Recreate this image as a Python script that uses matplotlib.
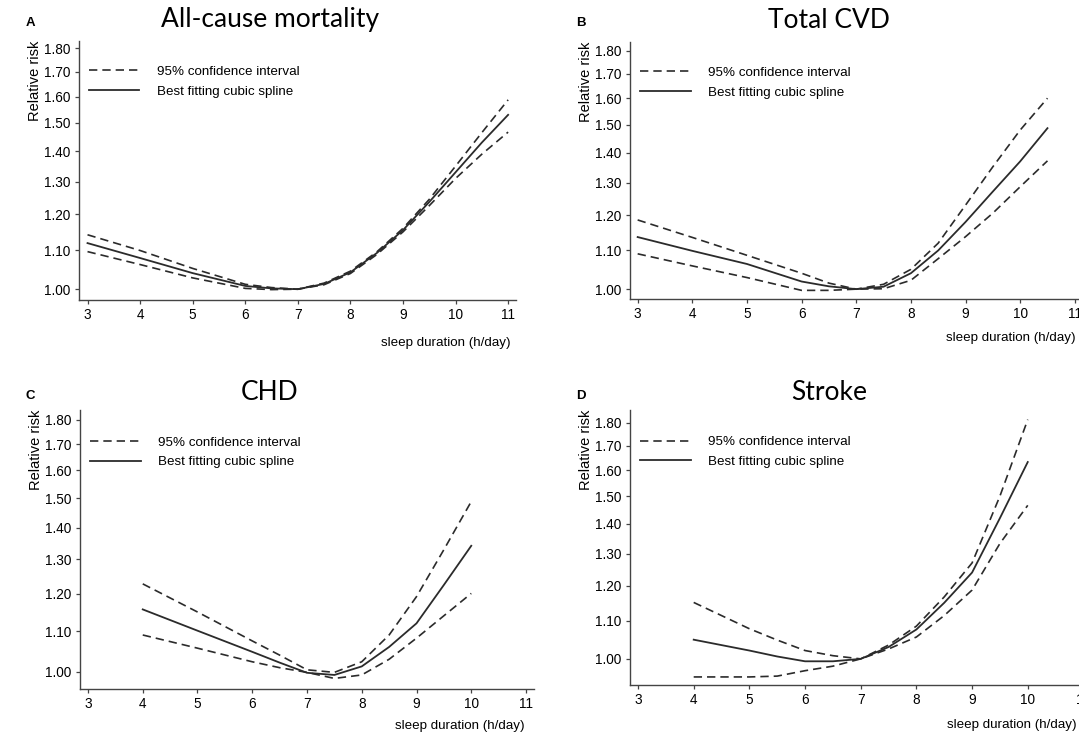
import matplotlib.pyplot as plt
from matplotlib.ticker import FixedLocator, NullLocator, FormatStrFormatter

plt.rcParams['font.family'] = ['Liberation Sans', 'DejaVu Sans']

# A - All-cause mortality
x_a = [3, 4, 5, 6, 6.5, 7, 7.5, 8, 8.5, 9, 9.5, 10, 10.5, 11]
spl_a = [1.119, 1.079, 1.040, 1.008, 1.002, 1.000, 1.013, 1.042, 1.092, 1.155, 1.237, 1.330, 1.430, 1.530]
up_a = [1.142, 1.099, 1.052, 1.012, 1.004, 1.000, 1.015, 1.045, 1.095, 1.160, 1.245, 1.350, 1.465, 1.587]
lo_a = [1.096, 1.062, 1.028, 1.002, 0.999, 1.000, 1.011, 1.039, 1.088, 1.150, 1.226, 1.310, 1.390, 1.467]

# B - Total CVD
x_b = [3, 4, 5, 6, 6.5, 7, 7.5, 8, 8.5, 9, 9.5, 10, 10.5]
spl_b = [1.137, 1.099, 1.064, 1.019, 1.007, 1.000, 1.006, 1.040, 1.100, 1.180, 1.272, 1.370, 1.487]
up_b = [1.186, 1.136, 1.087, 1.040, 1.015, 1.000, 1.012, 1.050, 1.120, 1.230, 1.352, 1.480, 1.601]
lo_b = [1.091, 1.059, 1.029, 0.997, 0.997, 1.000, 1.001, 1.022, 1.078, 1.138, 1.206, 1.287, 1.372]

# C - CHD
x_c = [4, 5, 6, 6.5, 7, 7.5, 8, 8.5, 9, 9.5, 10]
spl_c = [1.157, 1.101, 1.048, 1.022, 0.998, 0.993, 1.013, 1.060, 1.120, 1.225, 1.342]
up_c = [1.228, 1.150, 1.075, 1.040, 1.005, 0.999, 1.024, 1.090, 1.192, 1.330, 1.488]
lo_c = [1.090, 1.057, 1.024, 1.010, 0.999, 0.985, 0.993, 1.030, 1.082, 1.140, 1.201]

# D - Stroke
x_d = [4, 5, 5.5, 6, 6.5, 7, 7.5, 8, 8.5, 9, 9.5, 10]
spl_d = [1.049, 1.021, 1.006, 0.994, 0.994, 1.000, 1.030, 1.076, 1.150, 1.240, 1.420, 1.633]
up_d = [1.151, 1.078, 1.048, 1.021, 1.008, 1.000, 1.035, 1.085, 1.167, 1.270, 1.500, 1.815]
lo_d = [0.956, 0.956, 0.958, 0.971, 0.982, 1.000, 1.025, 1.056, 1.114, 1.187, 1.333, 1.466]

y_ticks = [1.00, 1.10, 1.20, 1.30, 1.40, 1.50, 1.60, 1.70, 1.80]
x_ticks = [3, 4, 5, 6, 7, 8, 9, 10, 11]

W, H = 1079, 734
fig = plt.figure(figsize=(W / 100, H / 100), dpi=100)

col = '#2b2b2b'
panels = [
    # letter, title, data, box (l, t, r, b px), xlim, ylim, letter pos, title centre, xlabel (right, y)
    ('A', 'All-cause mortality', (x_a, spl_a, up_a, lo_a), (79, 41, 516, 300), (2.838, 11.15), (0.974, 1.832),
     (30, 23), (270, 20), (511, 343)),
    ('B', 'Total CVD', (x_b, spl_b, up_b, lo_b), (630, 42, 1089, 299), (2.86, 11.26), (0.976, 1.839),
     (581, 23), (829, 20), (1076, 338)),
    ('C', 'CHD', (x_c, spl_c, up_c, lo_c), (80, 410, 534, 689), (2.854, 11.146), (0.961, 1.842),
     (30, 396), (270, 392), (525, 726)),
    ('D', 'Stroke', (x_d, spl_d, up_d, lo_d), (630, 410, 1089, 685), (2.856, 11.1), (0.937, 1.859),
     (581, 396), (829, 392), (1077, 725)),
]

for letter, title, data, box, xl, yl, lpos, tpos, xlab in panels:
    x, s, u, l = data
    left, top, right, bottom = box
    ax = fig.add_axes([left / W, 1 - bottom / H, (right - left) / W, (bottom - top) / H])
    ax.plot(x, u, color=col, lw=1.2, dashes=(5, 3), label='95% confidence interval')
    ax.plot(x, l, color=col, lw=1.2, dashes=(5, 3))
    ax.plot(x, s, color=col, lw=1.3, label='Best fitting cubic spline')
    ax.set_yscale('log')
    ax.set_xlim(*xl)
    ax.set_ylim(*yl)
    ax.yaxis.set_major_locator(FixedLocator(y_ticks))
    ax.yaxis.set_minor_locator(NullLocator())
    ax.yaxis.set_major_formatter(FormatStrFormatter('%.2f'))
    ax.set_xticks(x_ticks)
    ax.tick_params(labelsize=9.8, length=3, width=0.9, color='#444444', pad=3)
    for sp in ['top', 'right']:
        ax.spines[sp].set_visible(False)
    for sp in ['left', 'bottom']:
        ax.spines[sp].set_color('#444444')
        ax.spines[sp].set_linewidth(1.0)
    ax.set_ylabel('Relative risk', fontsize=10.5, loc='top', labelpad=2)
    ax.set_xlabel('sleep duration (h/day)', fontsize=9.6, loc='right')
    ax.xaxis.label.set_va('center')
    ax.xaxis.set_label_coords((xlab[0] - left) / (right - left), -(xlab[1] - bottom) / (bottom - top))
    ax.legend(loc='upper left', frameon=False, fontsize=9.6, handlelength=3.8,
              handletextpad=1.3, labelspacing=0.55, borderaxespad=0.0,
              bbox_to_anchor=(0.01, 0.925))
    fig.text(lpos[0] / W, 1 - lpos[1] / H, letter, fontsize=9.5, fontweight='bold',
             ha='center', va='center')
    fig.text(tpos[0] / W, 1 - tpos[1] / H, title, fontsize=19, family='Lato',
             ha='center', va='center')

fig.savefig('out.png', dpi=100)
